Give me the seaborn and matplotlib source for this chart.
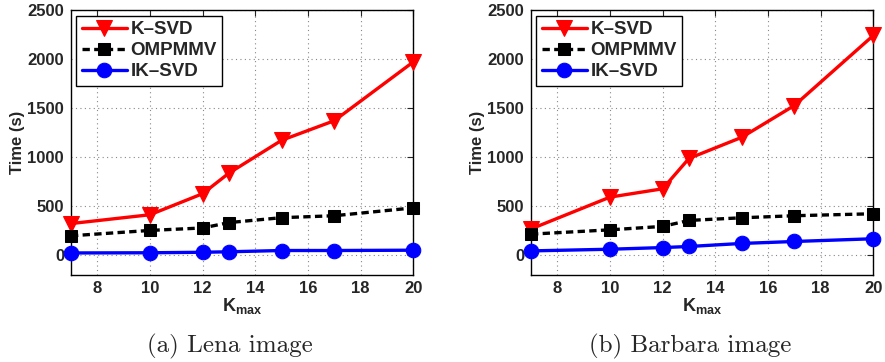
import matplotlib
matplotlib.use("Agg")
import matplotlib.pyplot as plt
import seaborn as sns
import pandas as pd

# K_max values
k_max = [7, 10, 12, 13, 15, 17, 20]

# Lena image timing (s)
lena_ksvd = [320, 410, 625, 835, 1170, 1370, 1970]
lena_ompmmv = [195, 250, 275, 330, 380, 400, 480]
lena_iksvd = [20, 22, 27, 32, 45, 45, 48]

# Barbara image timing (s)
barbara_ksvd = [265, 590, 675, 985, 1200, 1525, 2240]
barbara_ompmmv = [212, 256, 291, 352, 379, 400, 420]
barbara_iksvd = [41, 58, 75, 86, 117, 137, 165]

series_names = ["K\u2013SVD", "OMPMMV", "IK\u2013SVD"]
captions = ["(a) Lena image", "(b) Barbara image"]
caption_x = [230, 690]  # pixel centres of the sub-captions
y_ticks = [0, 500, 1000, 1500, 2000, 2500]
x_ticks = [8, 10, 12, 14, 16, 18, 20]

sns.set_style("white")
plt.rcParams["font.family"] = ["Liberation Sans", "DejaVu Sans"]
plt.rcParams["font.weight"] = "bold"
plt.rcParams["mathtext.fontset"] = "custom"
plt.rcParams["mathtext.rm"] = "Liberation Sans:bold"
plt.rcParams["mathtext.bf"] = "Liberation Sans:bold"
plt.rcParams["mathtext.it"] = "Liberation Sans:bold"

styles = [
    dict(color="#ff0000", marker="v", markersize=12, linestyle="-"),
    dict(color="black", marker="s", markersize=8.5, linestyle=(0, (2.2, 1.3))),
    dict(color="#0000ff", marker="o", markersize=10.5, linestyle="-"),
]

fig = plt.figure(figsize=(8.85, 3.62), dpi=100)
axes = [fig.add_axes([0.0802, 0.2417, 0.3868, 0.7307]),
        fig.add_axes([0.6000, 0.2417, 0.3868, 0.7307])]

datasets = [[lena_ksvd, lena_ompmmv, lena_iksvd],
            [barbara_ksvd, barbara_ompmmv, barbara_iksvd]]

for ax, data, cap, cx in zip(axes, datasets, captions, caption_x):
    for name, vals, st in zip(series_names, data, styles):
        df = pd.DataFrame({"k": k_max, "t": vals})
        sns.lineplot(data=df, x="k", y="t", ax=ax, label=name,
                     linewidth=2.4, markeredgecolor=st["color"],
                     clip_on=False, zorder=3, **st)
    ax.set_xlim(7, 20)
    ax.set_ylim(-200, 2500)
    ax.set_xticks(x_ticks)
    ax.set_yticks(y_ticks)
    ax.tick_params(direction="in", length=4, width=0.8, labelsize=12,
                   top=True, right=True, pad=5)
    for lab in ax.get_xticklabels() + ax.get_yticklabels():
        lab.set_fontweight("bold")
    ax.grid(True, linestyle=(0, (1, 3)), color="#888888", linewidth=0.8)
    for sp in ax.spines.values():
        sp.set_visible(True)
        sp.set_color("black")
        sp.set_linewidth(1.0)
    ax.set_xlabel(r"$\mathbf{K_{max}}$", fontsize=13, labelpad=0)
    ax.set_ylabel("Time (s)", fontsize=12, fontweight="bold", labelpad=2)
    leg = ax.legend(loc="upper left", bbox_to_anchor=(0.0146, 0.9785),
                    borderaxespad=0, handlelength=2.4,
                    handletextpad=0.2, labelspacing=0.2, borderpad=0.3,
                    fancybox=False, framealpha=1, edgecolor="black",
                    prop={"weight": "bold", "size": 13.5})
    leg.get_frame().set_linewidth(1.0)
    fig.text(cx / 885, 0.042, cap, ha="center", va="center",
             fontsize=18, fontfamily="cmr10", fontweight="normal")

fig.savefig("out.png", dpi=100)
